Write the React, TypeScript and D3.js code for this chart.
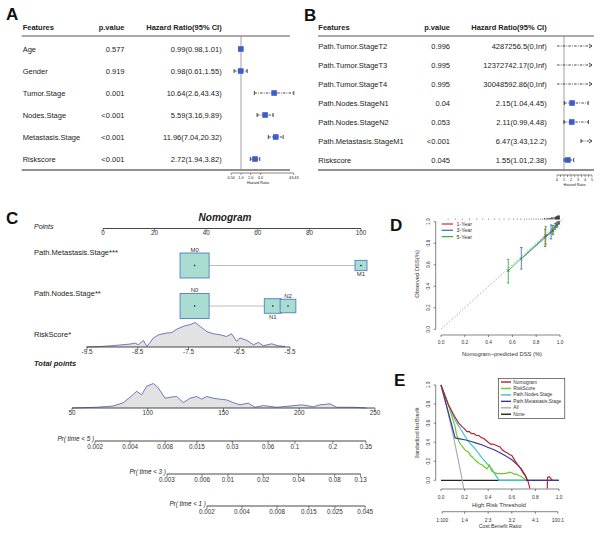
import React from "react";
import * as d3 from "d3";

const FONT = "'Liberation Sans', Arial, Helvetica, sans-serif";

// ---------------- Panel A (univariate Cox) ----------------
const featuresA = ["Age", "Gender", "Tumor.Stage", "Nodes.Stage", "Metastasis.Stage", "Riskscore"];
const pValuesA = ["0.577", "0.919", "0.001", "<0.001", "<0.001", "<0.001"];
const hrA = [0.99, 0.98, 10.64, 5.59, 11.96, 2.72];
const loA = [0.98, 0.61, 2.6, 3.16, 7.04, 1.94];
const hiA = [1.01, 1.55, 43.43, 9.89, 20.32, 3.82];
const hrLabelsA = ["0.99(0.98,1.01)", "0.98(0.61,1.55)", "10.64(2.6,43.43)", "5.59(3.16,9.89)", "11.96(7.04,20.32)", "2.72(1.94,3.82)"];
const ticksA = [0.5, 1, 2, 4, 43.43];
const tickLabelsA = ["0.50", "1.0", "2.0", "4.0", "43.43"];

// ---------------- Panel B (multivariate Cox) ----------------
const featuresB = ["Path.Tumor.StageT2", "Path.Tumor.StageT3", "Path.Tumor.StageT4", "Path.Nodes.StageN1", "Path.Nodes.StageN2", "Path.Metastasis.StageM1", "Riskscore"];
const pValuesB = ["0.996", "0.995", "0.995", "0.04", "0.053", "<0.001", "0.045"];
const hrB = [4287256.5, 12372742.17, 30048592.86, 2.15, 2.11, 6.47, 1.55];
const loB = [0, 0, 0, 1.04, 0.99, 3.43, 1.01];
const hiB = [Infinity, Infinity, Infinity, 4.45, 4.48, 12.2, 2.38];
const hrLabelsB = ["4287256.5(0,Inf)", "12372742.17(0,Inf)", "30048592.86(0,Inf)", "2.15(1.04,4.45)", "2.11(0.99,4.48)", "6.47(3.43,12.2)", "1.55(1.01,2.38)"];
const ticksB = [0, 1, 2, 3, 4, 5];
const minorTicksB = [0, 0.5, 1, 1.5, 2, 2.5, 3, 3.5, 4, 4.5, 5];

// ---------------- Panel C (nomogram) ----------------
const pointsTicks = [0, 20, 40, 60, 80, 100];
const metLevels = ["M0", "M1"];
const metPoints = [35.5, 100];
const metFreq = [0.85, 0.145];
const nodeLevels = ["N0", "N1", "N2"];
const nodePoints = [35.5, 65.8, 71.7];
const nodeFreq = [0.85, 0.29, 0.25];
const riskTicks = [-9.5, -8.5, -7.5, -6.5, -5.5];
const riskGrid = [-9.52, -9.24, -8.91, -8.65, -8.55, -8.49, -8.39, -8.32, -8.19, -8.09, -7.93, -7.83, -7.73, -7.57, -7.47, -7.37, -7.27, -7.14, -7.01, -6.88, -6.75, -6.65, -6.55, -6.49, -6.35, -6.22, -6.12, -6.03, -5.86, -5.73, -5.6];
const riskDensity = [0, 0.02, 0.07, 0.12, 0.16, 0.09, 0.27, 0.02, 0.37, 0.5, 0.57, 0.59, 0.73, 0.87, 0.91, 1.0, 0.84, 0.63, 0.54, 0.5, 0.43, 0.54, 0.23, 0.37, 0.27, 0.09, 0.19, 0.05, 0.13, 0.05, 0.02];
const totalTicks = [50, 100, 150, 200, 250];
const totalGrid = [50, 66.3, 77.1, 83.7, 89.4, 92.7, 96.0, 99.3, 103.7, 107.0, 111.4, 115.8, 119.1, 123.5, 127.9, 132.3, 135.6, 138.9, 143.3, 147.7, 152.1, 156.5, 160.9, 166.4, 170.8, 176.3, 185.1, 193.9, 201.6, 209.3, 213.7, 220.3, 224.7, 235.5, 244.5];
const totalDensity = [0, 0.03, 0.08, 0.21, 0.5, 0.68, 0.54, 0.89, 1.0, 0.82, 0.4, 0.45, 0.47, 0.22, 0.4, 0.47, 0.36, 0.47, 0.4, 0.36, 0.33, 0.22, 0.13, 0.2, 0.03, 0.1, 0.03, 0.08, 0.13, 0.05, 0.13, 0.17, 0.03, 0.03, 0];
const prTimes = [5, 3, 1];
const prTicks = [
  [0.002, 0.004, 0.008, 0.015, 0.03, 0.06, 0.1, 0.2, 0.35],
  [0.003, 0.006, 0.01, 0.02, 0.04, 0.08, 0.13],
  [0.002, 0.004, 0.008, 0.015, 0.025, 0.045],
];
const prOffsets = [272.1, 306.1, 346.0]; // total points where cloglog(p) = 0
const prSlope = 33.3; // total points per unit of cloglog(p)

// ---------------- Panel D (calibration) ----------------
const calTicks = [0, 0.2, 0.4, 0.6, 0.8, 1.0];
const calSeries = ["1-Year", "3-Year", "5-Year"];
const calColors = ["#e3342f", "#3a78c2", "#3db33d"];
const calPred = [
  [0.875, 0.94, 0.972, 0.99],
  [0.675, 0.925, 0.96, 0.985],
  [0.565, 0.88, 0.94, 0.975],
];
const calObs = [
  [0.855, 0.925, 0.97, 0.99],
  [0.655, 0.9, 0.955, 0.99],
  [0.545, 0.87, 0.915, 0.97],
];
const calLo = [
  [0.77, 0.88, 0.95, 0.98],
  [0.56, 0.84, 0.93, 0.975],
  [0.43, 0.79, 0.88, 0.95],
];
const calHi = [
  [0.93, 0.965, 0.99, 1.0],
  [0.76, 0.97, 0.985, 1.0],
  [0.65, 0.955, 0.965, 0.995],
];
const rugPred = [0.06, 0.12, 0.18, 0.24, 0.3, 0.35, 0.4, 0.45, 0.49, 0.53, 0.57, 0.61, 0.64, 0.67, 0.7, 0.72, 0.74, 0.76, 0.78, 0.8, 0.82, 0.84, 0.855, 0.87, 0.88, 0.89, 0.9, 0.91, 0.92, 0.93, 0.94, 0.95, 0.96, 0.965, 0.97, 0.975, 0.98, 0.985, 0.99, 0.995];
const rugCount = [1, 1, 1, 1, 1, 1, 1, 1, 1, 1, 1, 1, 1, 1, 1, 1, 1, 1, 1, 1, 1, 1, 1, 2, 1, 2, 2, 2, 2, 3, 3, 3, 3, 4, 4, 4, 5, 5, 5, 5];

// ---------------- Panel E (decision curve) ----------------
const dcaTicks = [0, 0.2, 0.4, 0.6, 0.8, 1.0];
const costTickPos = [0.01, 0.2, 0.4, 0.6, 0.8, 0.99];
const costTickLabels = ["1:100", "1:4", "2:3", "3:2", "4:1", "100:1"];
const dcaNames = ["Nomogram", "RiskScore", "Path.Nodes.Stage", "Path.Metastasis.Stage", "All", "None"];
const dcaColors = ["#b8202a", "#66cc22", "#3cc4c4", "#38389c", "#aaaaaa", "#222222"];
const nomoX = [0, 0.03, 0.06, 0.09, 0.12, 0.15, 0.18, 0.2, 0.22, 0.24, 0.26, 0.28, 0.3, 0.32, 0.34, 0.36, 0.38, 0.4, 0.42, 0.44, 0.46, 0.48, 0.5, 0.52, 0.54, 0.56, 0.58, 0.6, 0.62, 0.64, 0.66, 0.68, 0.7, 0.72, 0.74, 0.76];
const nomoY = [1.0, 0.9, 0.8, 0.73, 0.66, 0.6, 0.56, 0.54, 0.51, 0.51, 0.49, 0.49, 0.47, 0.47, 0.45, 0.44, 0.42, 0.4, 0.38, 0.38, 0.37, 0.36, 0.35, 0.32, 0.3, 0.29, 0.27, 0.26, 0.22, 0.18, 0.15, 0.11, 0.07, 0.04, -0.02, -0.12];
const nomoTailX = [0.9, 0.903, 0.915, 0.93, 0.945];
const nomoTailY = [-0.12, 0.03, 0.04, 0.02, 0.0];
const rsX = [0, 0.03, 0.06, 0.08, 0.1, 0.12, 0.13, 0.15, 0.17, 0.19, 0.21, 0.23, 0.25, 0.27, 0.29, 0.31, 0.33, 0.35, 0.37, 0.39, 0.41, 0.43, 0.45, 0.48, 0.5, 0.53, 0.56, 0.58, 0.6, 0.62, 0.64, 0.66, 0.68, 0.7, 0.72];
const rsY = [1.0, 0.9, 0.8, 0.72, 0.64, 0.56, 0.49, 0.41, 0.37, 0.34, 0.31, 0.3, 0.26, 0.24, 0.21, 0.19, 0.17, 0.16, 0.14, 0.12, 0.16, 0.1, 0.08, 0.07, 0.07, 0.07, 0.075, 0.085, 0.08, 0.065, 0.065, 0.05, 0.04, 0.02, 0.0];
const nodesX = [0, 0.06, 0.12, 0.17, 0.23, 0.29, 0.35, 0.43, 0.49, 0.72];
const nodesY = [1.0, 0.8, 0.63, 0.53, 0.41, 0.33, 0.23, 0.12, 0.0, 0.0];
const metX = [0, 0.12, 0.16, 0.2, 0.25, 0.3, 0.35, 0.4, 0.45, 0.5, 0.55, 0.6, 0.65, 0.68, 0.71, 0.73, 1.0];
const metY = [1.0, 0.445, 0.435, 0.425, 0.41, 0.39, 0.37, 0.345, 0.32, 0.29, 0.255, 0.215, 0.16, 0.12, 0.06, 0.0, 0.0];
const allX = [0, 0.05, 0.1, 0.15, 0.18, 0.2];
const allY = [1.0, 0.76, 0.49, 0.19, 0.0, -0.14];
const noneX = [0, 1];
const noneY = [0, 0];

// ------------------------------------------------------------
function Forest(props: any) {
  const { features, pvals, hrLabels, hr, lo, hi, scale, ticks, tickLabels, minorTicks, xFeat, xP, xHR, lineX0, lineX1, rowTop, rowBottom, axisY, axisTitleX } = props;
  const n = features.length;
  const y = d3.scaleLinear().domain([0, n - 1]).range([rowTop, rowBottom]);
  const [d0, d1] = scale.domain();
  const refX = scale(1);
  const fs = 7.5;
  return (
    <g fontSize={fs} fill="#222">
      <text x={xFeat} y={27} fontWeight="bold" dominantBaseline="central">Features</text>
      <text x={xP} y={27} fontWeight="bold" textAnchor="end" dominantBaseline="central">p.value</text>
      <text x={xHR} y={27} fontWeight="bold" textAnchor="end" dominantBaseline="central">Hazard Ratio(95% CI)</text>
      <line x1={lineX0} x2={lineX1} y1={36} y2={36} stroke="#555" strokeWidth={1} />
      <line x1={lineX0} x2={lineX1} y1={170} y2={170} stroke="#222" strokeWidth={1} />
      <line x1={refX} x2={refX} y1={36} y2={170} stroke="#888" strokeWidth={0.8} />
      {features.map((f: string, i: number) => {
        const yy = y(i);
        const xLo = lo[i] <= d0 ? scale(d0) : scale(lo[i]);
        const hiIn = hi[i] <= d1;
        const xHi = hiIn ? scale(hi[i]) : scale(d1);
        const hrIn = hr[i] >= d0 && hr[i] <= d1;
        return (
          <g key={f}>
            <text x={xFeat} y={yy} dominantBaseline="central">{f}</text>
            <text x={xP} y={yy} textAnchor="end" dominantBaseline="central">{pvals[i]}</text>
            <text x={xHR} y={yy} textAnchor="end" dominantBaseline="central">{hrLabels[i]}</text>
            <line x1={xLo} x2={xHi} y1={yy} y2={yy} stroke="#333" strokeWidth={0.9} strokeDasharray="2.5,1.2,0.8,1.2" />
            {lo[i] > d0 && <line x1={xLo} x2={xLo} y1={yy - 2} y2={yy + 2} stroke="#333" strokeWidth={0.9} />}
            {hiIn ? (
              <line x1={xHi} x2={xHi} y1={yy - 2} y2={yy + 2} stroke="#333" strokeWidth={0.9} />
            ) : (
              <path d={`M${xHi - 3},${yy - 2}L${xHi},${yy}L${xHi - 3},${yy + 2}`} fill="none" stroke="#333" strokeWidth={0.9} />
            )}
            {hrIn && <rect x={scale(hr[i]) - 2.8} y={yy - 2.8} width={5.6} height={5.6} fill="#3d5ccc" />}
          </g>
        );
      })}
      <g>
        <line x1={scale(d0)} x2={scale(d1)} y1={axisY} y2={axisY} stroke="#333" strokeWidth={0.6} />
        {(minorTicks || ticks).map((t: number) => (
          <line key={"m" + t} x1={scale(t)} x2={scale(t)} y1={axisY} y2={axisY + 2} stroke="#333" strokeWidth={0.5} />
        ))}
        {ticks.map((t: number, i: number) => (
          <text key={"t" + t} x={scale(t)} y={axisY + 5} fontSize={3.8} textAnchor="middle" dominantBaseline="central">{tickLabels[i]}</text>
        ))}
        <text x={axisTitleX} y={axisY + 10} fontSize={3.8} textAnchor="middle" dominantBaseline="central">Hazard Ratio</text>
      </g>
    </g>
  );
}

function NomoAxis({ scale, ticks, labels, y }: any) {
  return (
    <g>
      <line x1={scale(ticks[0])} x2={scale(ticks[ticks.length - 1])} y1={y} y2={y} stroke="#333" strokeWidth={0.9} />
      {ticks.map((t: number, i: number) => (
        <g key={i}>
          <line x1={scale(t)} x2={scale(t)} y1={y} y2={y + 3} stroke="#333" strokeWidth={0.6} />
          <text x={scale(t)} y={y + 6.5} fontSize={6.3} textAnchor="middle" fill="#333">{labels ? labels[i] : String(t)}</text>
        </g>
      ))}
    </g>
  );
}

function CatRow({ levels, points, freq, y, xPts, box }: any) {
  const xs = points.map((p: number) => xPts(p));
  return (
    <g>
      <line x1={d3.min(xs)} x2={d3.max(xs)} y1={y} y2={y} stroke="#aaa" strokeWidth={0.8} />
      {levels.map((lv: string, i: number) => {
        const w = box(freq[i]);
        const h = w * 0.86;
        const above = i % 2 === 0;
        return (
          <g key={lv}>
            <rect x={xs[i] - w / 2} y={y - h / 2} width={w} height={h} fill="#a9ddd2" stroke="#4f7fbf" strokeWidth={0.9} />
            <circle cx={xs[i]} cy={y} r={0.8} fill="#111" />
            <text x={xs[i]} y={above ? y - h / 2 - 1.3 : y + h / 2 + 5.5} fontSize={6} textAnchor="middle" fill="#333">{lv}</text>
          </g>
        );
      })}
    </g>
  );
}

function Nomogram() {
  const xPts = d3.scaleLinear().domain([0, 100]).range([103, 361]);
  const xRisk = d3.scaleLinear().domain([-9.5, -5.5]).range([87, 290]);
  const xTP = d3.scaleLinear().domain([50, 250]).range([72, 375]);
  const box = d3.scaleSqrt().domain([0, 1]).range([0, 31.5]);
  const dens = d3.scaleLinear().domain([0, 1]).range([0, 24.5]);
  const riskBase = 347;
  const tpBase = 408;
  const riskArea = d3.area<number>().x((_, i) => xRisk(riskGrid[i])).y0(riskBase).y1((d) => riskBase - dens(d));
  const riskLine = d3.line<number>().x((_, i) => xRisk(riskGrid[i])).y((d) => riskBase - dens(d));
  const tpArea = d3.area<number>().x((_, i) => xTP(totalGrid[i])).y0(tpBase).y1((d) => tpBase - dens(d));
  const tpLine = d3.line<number>().x((_, i) => xTP(totalGrid[i])).y((d) => tpBase - dens(d));
  const cloglog = (p: number) => Math.log(-Math.log(1 - p));
  const labelX = 34;
  const prY = [441, 474, 506];
  return (
    <g fill="#222">
      <text x={225} y={221} fontSize={10} fontWeight="bold" fontStyle="italic" textAnchor="middle">Nomogram</text>
      <text x={labelX} y={229} fontSize={7} fontStyle="italic">Points</text>
      <NomoAxis scale={xPts} ticks={pointsTicks} y={228.5} />

      <text x={labelX} y={255} fontSize={7.5}>Path.Metastasis.Stage***</text>
      <CatRow levels={metLevels} points={metPoints} freq={metFreq} y={265.5} xPts={xPts} box={box} />

      <text x={labelX} y={296} fontSize={7.5}>Path.Nodes.Stage**</text>
      <CatRow levels={nodeLevels} points={nodePoints} freq={nodeFreq} y={306} xPts={xPts} box={box} />

      <text x={labelX} y={337} fontSize={7.5}>RiskScore*</text>
      <path d={riskArea(riskDensity) || ""} fill="#e2e2e2" />
      <path d={riskLine(riskDensity) || ""} fill="none" stroke="#4a5db0" strokeWidth={0.8} />
      <NomoAxis scale={xRisk} ticks={riskTicks} y={riskBase} />

      <text x={labelX} y={366} fontSize={7.5} fontWeight="bold" fontStyle="italic">Total points</text>
      <path d={tpArea(totalDensity) || ""} fill="#e2e2e2" />
      <path d={tpLine(totalDensity) || ""} fill="none" stroke="#4a5db0" strokeWidth={0.8} />
      <NomoAxis scale={xTP} ticks={totalTicks} y={tpBase} />

      {prTimes.map((t, k) => {
        const toX = (p: number) => xTP(prOffsets[k] + prSlope * cloglog(p));
        const tks = prTicks[k];
        const x0 = toX(tks[0]);
        return (
          <g key={t}>
            <text x={x0 - 1} y={prY[k] + 0.3} fontSize={6.3} fontStyle="italic" textAnchor="end">{`Pr( time < ${t} )`}</text>
            <line x1={x0} x2={toX(tks[tks.length - 1])} y1={prY[k]} y2={prY[k]} stroke="#333" strokeWidth={0.9} />
            {tks.map((p, i) => (
              <g key={i}>
                <line x1={toX(p)} x2={toX(p)} y1={prY[k]} y2={prY[k] + 3} stroke="#333" strokeWidth={0.6} />
                <text x={toX(p)} y={prY[k] + 8} fontSize={6.3} textAnchor="middle" fill="#333">{String(p)}</text>
              </g>
            ))}
          </g>
        );
      })}
    </g>
  );
}

function Calibration() {
  const x = d3.scaleLinear().domain([0, 1]).range([441, 560]);
  const y = d3.scaleLinear().domain([0, 1]).range([329.3, 221.7]);
  const axY = 335;
  const axX = 435.7;
  const line = d3.line<number>();
  return (
    <g fill="#333">
      {rugPred.map((p, i) => (
        <line key={i} x1={x(p)} x2={x(p)} y1={219.5} y2={219.5 - rugCount[i] * 0.8} stroke="#111" strokeWidth={0.7} />
      ))}
      <line x1={x(0)} y1={y(0)} x2={x(1.03)} y2={y(1.03)} stroke="#888" strokeWidth={0.6} strokeDasharray="2,1.5" />
      {calSeries.map((s, k) => {
        const pts: [number, number][] = calPred[k].map((p, i) => [x(p), y(calObs[k][i])]);
        return (
          <g key={s}>
            <path d={line(pts) || ""} fill="none" stroke={calColors[k]} strokeWidth={0.9} />
            {calPred[k].map((p, i) => (
              <g key={i} stroke={calColors[k]} strokeWidth={0.9}>
                <line x1={x(p)} x2={x(p)} y1={y(calLo[k][i])} y2={y(calHi[k][i])} />
                <line x1={x(p) - 1.2} x2={x(p) + 1.2} y1={y(calLo[k][i])} y2={y(calLo[k][i])} />
                <line x1={x(p) - 1.2} x2={x(p) + 1.2} y1={y(calHi[k][i])} y2={y(calHi[k][i])} />
              </g>
            ))}
            {calPred[k].map((p, i) => (
              <path key={"x" + i} d={`M${x(p) - 1.3},${y(calObs[k][i]) - 1.3}L${x(p) + 1.3},${y(calObs[k][i]) + 1.3}M${x(p) - 1.3},${y(calObs[k][i]) + 1.3}L${x(p) + 1.3},${y(calObs[k][i]) - 1.3}`} stroke="#445" strokeWidth={0.6} />
            ))}
          </g>
        );
      })}
      {calSeries.map((s, k) => (
        <g key={"lg" + s}>
          <line x1={441.7} x2={453} y1={224 + k * 6.3} y2={224 + k * 6.3} stroke={calColors[k]} strokeWidth={1.3} />
          <text x={456.5} y={224 + k * 6.3} fontSize={5.3} dominantBaseline="central">{s}</text>
        </g>
      ))}
      <line x1={x(0)} x2={x(1)} y1={axY} y2={axY} stroke="#333" strokeWidth={0.6} />
      {calTicks.map((t) => (
        <g key={"xt" + t}>
          <line x1={x(t)} x2={x(t)} y1={axY} y2={axY + 2} stroke="#333" strokeWidth={0.6} />
          <text x={x(t)} y={axY + 7.5} fontSize={4.8} textAnchor="middle" dominantBaseline="central">{t.toFixed(1)}</text>
        </g>
      ))}
      <line x1={axX} x2={axX} y1={y(0)} y2={y(1)} stroke="#333" strokeWidth={0.6} />
      {calTicks.map((t) => (
        <g key={"yt" + t}>
          <line x1={axX} x2={axX - 2} y1={y(t)} y2={y(t)} stroke="#333" strokeWidth={0.6} />
          <text transform={`translate(${axX - 7.5},${y(t)}) rotate(-90)`} fontSize={4.8} textAnchor="middle" dominantBaseline="central">{t.toFixed(1)}</text>
        </g>
      ))}
      <text x={502} y={354} fontSize={5.8} textAnchor="middle" dominantBaseline="central">Nomogram−predicted DSS (%)</text>
      <text transform={`translate(417,274) rotate(-90)`} fontSize={5.8} textAnchor="middle" dominantBaseline="central">Observed DSS(%)</text>
    </g>
  );
}

function DCA() {
  const x = d3.scaleLinear().domain([0, 1]).range([441, 559]);
  const y = d3.scaleLinear().domain([0, 1]).range([480.3, 385]);
  const axY = 489;
  const axX = 435.7;
  const line = d3.line<number>().x((d: any) => x(d[0])).y((d: any) => y(d[1]));
  const mk = (xs: number[], ys: number[]) => line(xs.map((v, i) => [v, ys[i]]) as any) || "";
  const curves = [
    { d: mk(noneX, noneY), c: dcaColors[5] },
    { d: mk(allX, allY), c: dcaColors[4] },
    { d: mk(nodesX, nodesY), c: dcaColors[2] },
    { d: mk(rsX, rsY), c: dcaColors[1] },
    { d: mk(metX, metY), c: dcaColors[3] },
    { d: mk(nomoX, nomoY), c: dcaColors[0] },
    { d: mk(nomoTailX, nomoTailY), c: dcaColors[0] },
  ];
  return (
    <g fill="#333">
      <defs>
        <clipPath id="dcaClip">
          <rect x={437} y={383} width={124} height={105.5} />
        </clipPath>
      </defs>
      <g clipPath="url(#dcaClip)">
        {curves.map((c, i) => (
          <path key={i} d={c.d} fill="none" stroke={c.c} strokeWidth={1.15} />
        ))}
      </g>
      <rect x={498.3} y={378.5} width={66.5} height={40} fill="none" stroke="#222" strokeWidth={0.6} />
      {dcaNames.map((nm, k) => (
        <g key={nm}>
          <line x1={501} x2={511} y1={382 + k * 6.45} y2={382 + k * 6.45} stroke={dcaColors[k]} strokeWidth={1.4} />
          <text x={513.3} y={382 + k * 6.45} fontSize={4.8} dominantBaseline="central">{nm}</text>
        </g>
      ))}
      <line x1={x(0)} x2={x(1)} y1={axY} y2={axY} stroke="#333" strokeWidth={0.6} />
      {dcaTicks.map((t) => (
        <g key={"xt" + t}>
          <line x1={x(t)} x2={x(t)} y1={axY} y2={axY + 2} stroke="#333" strokeWidth={0.6} />
          <text x={x(t)} y={axY + 8.3} fontSize={4.8} textAnchor="middle" dominantBaseline="central">{t.toFixed(1)}</text>
        </g>
      ))}
      <line x1={axX} x2={axX} y1={y(0)} y2={y(1)} stroke="#333" strokeWidth={0.6} />
      {dcaTicks.map((t) => (
        <g key={"yt" + t}>
          <line x1={axX} x2={axX - 2} y1={y(t)} y2={y(t)} stroke="#333" strokeWidth={0.6} />
          <text transform={`translate(${axX - 7.5},${y(t)}) rotate(-90)`} fontSize={4.8} textAnchor="middle" dominantBaseline="central">{t.toFixed(1)}</text>
        </g>
      ))}
      <text x={499} y={504.5} fontSize={6} textAnchor="middle" dominantBaseline="central">High Risk Threshold</text>
      <line x1={x(costTickPos[0])} x2={x(costTickPos[costTickPos.length - 1])} y1={511.7} y2={511.7} stroke="#333" strokeWidth={0.6} />
      {costTickPos.map((t, i) => (
        <g key={"c" + i}>
          <line x1={x(t)} x2={x(t)} y1={511.7} y2={513.7} stroke="#333" strokeWidth={0.6} />
          <text x={x(t)} y={520} fontSize={4.8} textAnchor="middle" dominantBaseline="central">{costTickLabels[i]}</text>
        </g>
      ))}
      <text x={500} y={526} fontSize={5.3} textAnchor="middle" dominantBaseline="central">Cost:Benefit Ratio</text>
      <text transform={`translate(417,433) rotate(-90)`} fontSize={4.6} textAnchor="middle" dominantBaseline="central">Standardized Net Benefit</text>
    </g>
  );
}

export default function App() {
  const scaleA = d3.scaleLog().domain([0.5, 43.43]).range([241 + 14 * Math.log(0.5), 241 + 14 * Math.log(43.43)]);
  const scaleB = d3.scaleLinear().domain([0, 5]).range([557, 592]);
  return (
    <svg width={600} height={539} viewBox="0 0 600 539" style={{ position: "absolute", left: 0, top: 0, display: "block" }} fontFamily={FONT}>
      <rect x={0} y={0} width={600} height={539} fill="#fff" />
      <g fontWeight="bold" fontSize={17} fill="#111">
        <text x={6} y={20}>A</text>
        <text x={304} y={21}>B</text>
        <text x={6} y={224}>C</text>
        <text x={390} y={231}>D</text>
        <text x={394} y={386}>E</text>
      </g>
      <Forest features={featuresA} pvals={pValuesA} hrLabels={hrLabelsA} hr={hrA} lo={loA} hi={hiA}
        scale={scaleA} ticks={ticksA} tickLabels={tickLabelsA} xFeat={22.7} xP={124.5} xHR={221.7}
        lineX0={21.7} lineX1={290} rowTop={49} rowBottom={159} axisY={173} axisTitleX={258} />
      <Forest features={featuresB} pvals={pValuesB} hrLabels={hrLabelsB} hr={hrB} lo={loB} hi={hiB}
        scale={scaleB} ticks={ticksB} tickLabels={ticksB.map(String)} minorTicks={minorTicksB} xFeat={318.3} xP={450} xHR={546.7}
        lineX0={318} lineX1={594} rowTop={46} rowBottom={160} axisY={175} axisTitleX={574.5} />
      <Nomogram />
      <Calibration />
      <DCA />
    </svg>
  );
}
